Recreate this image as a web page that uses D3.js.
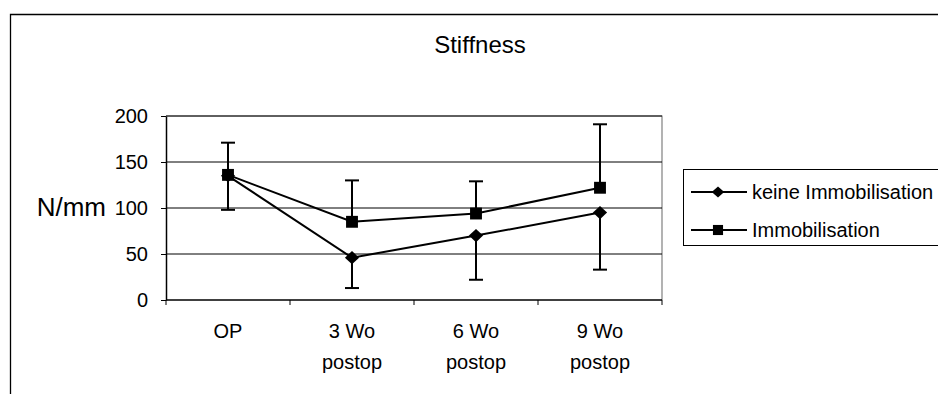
<!DOCTYPE html>
<html>
<head>
<meta charset="utf-8">
<script src="https://cdn.jsdelivr.net/npm/d3@7"></script>
<style>
  body { margin: 0; background: #fff; overflow: hidden; }
  svg { display: block; }
  svg text { font-family: "Liberation Sans", Arial, sans-serif; fill: #000; }
</style>
</head>
<body>
<svg id="chart" width="938" height="394"></svg>
<script>
// values
var categories = ["OP", "3 Wo|postop", "6 Wo|postop", "9 Wo|postop"];
var keine = [135, 46, 70, 95];        // keine Immobilisation
var keineSD = [37, 33, 48, 62];       // drawn downwards only
var immob = [136, 85, 94, 122];       // Immobilisation
var immobSD = [35, 45, 35, 69];       // drawn upwards only
var yTicks = [0, 50, 100, 150, 200];

var svg = d3.select("#chart");

// outer chart frame, only top + left are visible in the crop
svg.append("path")
  .attr("d", "M10.5,394V14.5H938")
  .attr("fill", "none").attr("stroke", "#000").attr("stroke-width", 1.3);

var x = d3.scaleBand().domain(categories).range([166, 662]);
var y = d3.scaleLinear().domain([0, 200]).range([300, 116]);
var cx = d => x(d) + x.bandwidth() / 2;

// plot area border (top + right)
svg.append("path")
  .attr("d", `M${x.range()[0]},${y(200)}H${x.range()[1]}V${y(0)}`)
  .attr("fill", "none").attr("stroke", "#808080").attr("stroke-width", 1.2);

// gridlines
svg.append("g").selectAll("line")
  .data(yTicks.filter(t => t > 0))
  .join("line")
  .attr("x1", 166).attr("x2", 662)
  .attr("y1", d => y(d)).attr("y2", d => y(d))
  .attr("stroke", "#000").attr("stroke-width", 1);

// y axis
var ya = svg.append("g").attr("transform", "translate(166,0)")
  .call(d3.axisLeft(y).tickValues(yTicks).tickSize(5).tickSizeOuter(0).tickPadding(13));
ya.select(".domain").attr("stroke", "#000").attr("stroke-width", 1.5);
ya.selectAll(".tick line").attr("stroke", "#000");
ya.selectAll(".tick text").style("font-size", "20px").attr("font-family", null);

// x axis line + ticks at category boundaries
svg.append("line")
  .attr("x1", 166).attr("x2", 662).attr("y1", 300).attr("y2", 300)
  .attr("stroke", "#000").attr("stroke-width", 1.5);
var bounds = categories.map(c => x(c)).concat([x.range()[1]]);
svg.append("g").selectAll("line").data(bounds).join("line")
  .attr("x1", d => d).attr("x2", d => d)
  .attr("y1", 300).attr("y2", 305)
  .attr("stroke", "#000").attr("stroke-width", 1);

// category labels (two lines)
var cl = svg.append("g").selectAll("text").data(categories).join("text")
  .attr("text-anchor", "middle")
  .style("font-size", "20px");
cl.selectAll("tspan").data(d => d.split("|").map(s => ({s: s, c: d})))
  .join("tspan")
  .attr("x", d => cx(d.c))
  .attr("y", (d, i) => 338 + i * 31)
  .text(d => d.s);

// title + y axis title
svg.append("text").attr("x", 480).attr("y", 53)
  .attr("text-anchor", "middle").style("font-size", "24px").text("Stiffness");
svg.append("text").attr("x", 106).attr("y", 216)
  .attr("text-anchor", "end").style("font-size", "26px").text("N/mm");

// error bars
function errBars(vals, sd, dir) {
  var g = svg.append("g").attr("stroke", "#000").attr("stroke-width", 2);
  g.selectAll("line.v").data(vals).join("line").attr("class", "v")
    .attr("x1", (d, i) => cx(categories[i])).attr("x2", (d, i) => cx(categories[i]))
    .attr("y1", d => y(d)).attr("y2", (d, i) => y(d + dir * sd[i]));
  g.selectAll("line.c").data(vals).join("line").attr("class", "c")
    .attr("x1", (d, i) => cx(categories[i]) - 7).attr("x2", (d, i) => cx(categories[i]) + 7)
    .attr("y1", (d, i) => y(d + dir * sd[i])).attr("y2", (d, i) => y(d + dir * sd[i]));
}
errBars(keine, keineSD, -1);
errBars(immob, immobSD, 1);

// lines
var line = d3.line().x((d, i) => cx(categories[i])).y(d => y(d));
[keine, immob].forEach(s => {
  svg.append("path").datum(s).attr("d", line)
    .attr("fill", "none").attr("stroke", "#000").attr("stroke-width", 2);
});

var diamond = d3.symbol().type(d3.symbolDiamond2).size(110);
var square = d3.symbol().type(d3.symbolSquare2).size(180);

svg.append("g").selectAll("path").data(keine).join("path")
  .attr("transform", (d, i) => `translate(${cx(categories[i])},${y(d)}) scale(1.08,1)`)
  .attr("d", diamond).attr("fill", "#000");
svg.append("g").selectAll("path").data(immob).join("path")
  .attr("transform", (d, i) => `translate(${cx(categories[i])},${y(d)})`)
  .attr("d", square).attr("fill", "#000");

// legend
var lg = svg.append("g");
lg.append("rect").attr("x", 683.5).attr("y", 169.5).attr("width", 400).attr("height", 76)
  .attr("fill", "#fff").attr("stroke", "#000").attr("stroke-width", 1);
var items = [
  {name: "keine Immobilisation", sym: diamond, sc: "scale(0.95,0.85)"},
  {name: "Immobilisation", sym: square, sc: "scale(0.85)"}
];
items.forEach((it, i) => {
  var yy = 192 + i * 38;
  lg.append("line").attr("x1", 691).attr("x2", 747).attr("y1", yy).attr("y2", yy)
    .attr("stroke", "#000").attr("stroke-width", 2);
  lg.append("path").attr("d", it.sym).attr("fill", "#000")
    .attr("transform", `translate(718,${yy}) ${it.sc}`);
  lg.append("text").attr("x", 752).attr("y", yy).attr("dy", "0.35em")
    .style("font-size", "20px").text(it.name);
});
</script>
</body>
</html>
